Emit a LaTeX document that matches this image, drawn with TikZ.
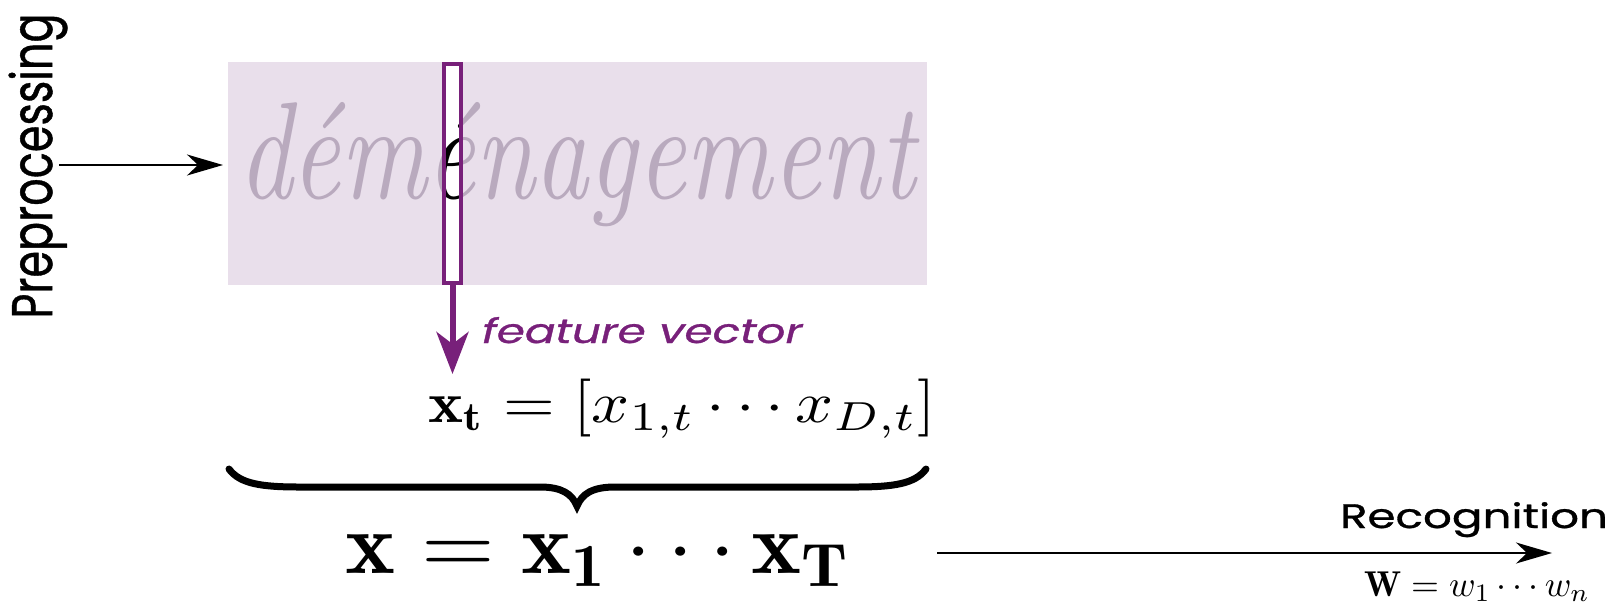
\documentclass[tikz,border=0pt]{standalone}
\usepackage{fontspec}
\setsansfont{Poppins}
\usetikzlibrary{arrows.meta}
\definecolor{bgl}{RGB}{233,223,235}
\definecolor{hw}{RGB}{185,170,190}
\definecolor{purp}{RGB}{120,32,122}
\newcommand\hst[1]{\scalebox{1.33}[1]{#1}}
\newcommand\hwword{\itshape déménagement}
\tikzset{
  arr/.style={-{Stealth[length=36pt,width=21pt,inset=11pt]}, line width=2pt, black},
  farr/.style={-{Stealth[length=42pt,width=32pt,inset=12pt]}, line width=6pt, purp},
  plain/.style={inner sep=0pt, outer sep=0pt},
  label sans/.style={plain, font=\sffamily\addfontfeature{FakeBold=0.8}}
}
\begin{document}
\begin{tikzpicture}[x=1pt,y=-1pt]
\useasboundingbox (0,0) rectangle (1613,606);
% image background
\node[plain, fill=bgl, minimum width=699pt, minimum height=223pt, anchor=north west] (img) at (228,62) {};
% handwritten word (grey)
\node[plain, anchor=base west, text=hw] (word) at (238,198) {\resizebox{677pt}{96pt}{\hwword}};
% sliding window
\node[plain, fill=white, minimum width=17pt, minimum height=219pt] (win) at (452.5,173.5) {};
\begin{scope}
  \clip (win.south west) rectangle (win.north east);
  \node[plain, anchor=base west, text=black] (wordk) at (238,198) {\resizebox{677pt}{96pt}{\hwword}};
\end{scope}
\draw[purp, line width=4pt] (win.south west) rectangle (win.north east);
% preprocessing
\node[label sans] (pre) at (38,166) {\hst{\rotatebox{90}{\fontsize{43}{43}\selectfont Preprocessing}}};
\coordinate (prein) at (59,165);
\draw[arr, shorten >=5pt] (prein) -- (img.west |- prein);
% feature vector
\coordinate (fvtip) at (452.5,374);
\draw[farr] (win.south) -- (fvtip);
\node[label sans, anchor=base west, text=purp, font=\sffamily\itshape\addfontfeature{FakeBold=0.8}] (fv) at (482,343) {\hst{\fontsize{34}{34}\selectfont feature vector}};
% x_t
\node[plain, anchor=base west] (xt) at (428,422) {\resizebox*{508pt}{60pt}{$\mathbf{x}_{\mathbf{t}} = [x_{1,t}\cdots x_{D,t}]$}};
% brace
\draw[line width=7pt, line cap=round] (229,469) .. controls (240,484) and (262,487) .. (300,487)
  -- (540,487) .. controls (562,487) and (572,494) .. (577,506)
  .. controls (582,494) and (592,487) .. (615,487) -- (855,487)
  .. controls (893,487) and (915,484) .. (926,469);
% X
\node[plain, anchor=base west] (X) at (345,573) {\resizebox*{507pt}{52pt}{$\mathbf{x} = \mathbf{x}_{\mathbf{1}}\cdots\mathbf{x}_{\mathbf{T}}$}};
% recognition
\coordinate (rs) at (937,553);
\coordinate (re) at (1552,553);
\draw[arr] (rs) -- (re);
\node[label sans, anchor=base west] (rec) at (1340,528) {\hst{\fontsize{34}{34}\selectfont Recognition}};
\node[plain, anchor=base west] (W) at (1364,596) {\resizebox{226pt}{!}{$\mathbf{W} = w_1\cdots w_n$}};
\end{tikzpicture}
\end{document}
